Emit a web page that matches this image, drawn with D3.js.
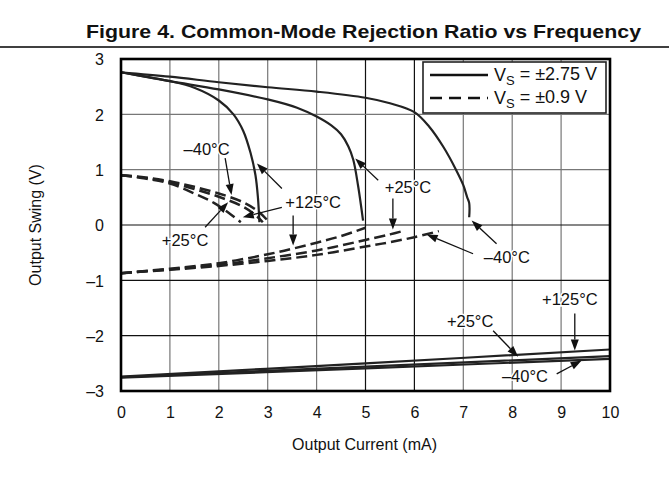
<!DOCTYPE html>
<html><head><meta charset="utf-8">
<script src="https://cdn.jsdelivr.net/npm/d3@7"></script>
<style>
html,body{margin:0;padding:0;background:#fff;}
svg text{font-family:"Liberation Sans",Arial,Helvetica,sans-serif;fill:#111;}
</style></head>
<body>
<svg id="chart" width="669" height="487"></svg>
<script>
// ---------- data ----------
const currentTicks = [0,1,2,3,4,5,6,7,8,9,10];
const swingTicks = [3,2,1,0,-1,-2,-3];
const swingTickLabels = ["3","2","1","0","\u20131","\u20132","\u20133"];

// VS = ±2.75 V, positive swing  [current mA, swing V]
const s275Pos_m40 = [[0,2.76],[1,2.68],[2,2.58],[3,2.49],[4,2.41],[5,2.3],[5.5,2.2],[6.0,2.04],[6.3,1.78],[6.6,1.4],[6.85,1.0],[7.0,0.72],[7.08,0.5],[7.12,0.4],[7.12,0.14]];
const s275Pos_p25 = [[0,2.76],[1,2.6],[2,2.45],[3,2.27],[3.6,2.12],[4.0,1.96],[4.3,1.8],[4.5,1.64],[4.65,1.42],[4.75,1.18],[4.85,0.7],[4.95,0.08]];
const s275Pos_p125 = [[0,2.76],[0.5,2.68],[1,2.6],[1.5,2.48],[2.0,2.25],[2.3,2.0],[2.5,1.7],[2.65,1.3],[2.75,0.9],[2.8,0.5],[2.83,0.05]];
// VS = ±2.75 V, negative swing
const s275Neg_m40 = [[0,-2.76],[5,-2.59],[10,-2.42]];
const s275Neg_p25 = [[0,-2.75],[5,-2.56],[10,-2.37]];
const s275Neg_p125 = [[0,-2.74],[5,-2.5],[10,-2.25]];
// VS = ±0.9 V, positive swing
const s09Pos_m40 = [[0,0.9],[0.5,0.86],[1,0.79],[1.5,0.69],[2,0.57],[2.5,0.41],[2.8,0.25],[3.0,0.08]];
const s09Pos_p25 = [[0,0.9],[0.5,0.85],[1,0.77],[1.5,0.65],[2,0.51],[2.5,0.33],[2.75,0.18],[2.9,0.05]];
const s09Pos_p125 = [[0,0.9],[0.5,0.84],[1,0.75],[1.5,0.57],[1.9,0.4],[2.2,0.22],[2.45,0.05]];
// VS = ±0.9 V, negative swing
const s09Neg_m40 = [[0,-0.87],[1,-0.81],[2,-0.74],[3,-0.65],[4,-0.54],[5,-0.39],[5.5,-0.31],[6,-0.22],[6.5,-0.11]];
const s09Neg_p25 = [[0,-0.87],[1,-0.8],[2,-0.72],[3,-0.6],[4,-0.46],[4.5,-0.37],[5,-0.27],[5.5,-0.17],[5.8,-0.1]];
const s09Neg_p125 = [[0,-0.87],[1,-0.79],[2,-0.69],[3,-0.53],[3.5,-0.43],[4,-0.32],[4.5,-0.2],[5,-0.05]];

const legendLabels = ["\u00b12.75 V","\u00b10.9 V"];

// annotations in data units: label [I,V], arrows [[fromI,fromV],[toI,toV]]
const annotations = [
  {text:"\u201340\u00b0C", at:[1.75,1.38], arrows:[[[2.13,1.21],[2.26,0.54]]]},
  {text:"+125\u00b0C", at:[3.93,0.41], arrows:[[[3.29,0.66],[2.78,1.11]],[[3.29,0.32],[2.49,0.14]],[[3.52,0.17],[3.52,-0.37]]]},
  {text:"+25\u00b0C", at:[1.31,-0.28], arrows:[[[1.72,-0.04],[2.19,0.41]]]},
  {text:"+25\u00b0C", at:[5.87,0.69], arrows:[[[5.26,0.81],[4.79,1.2]],[[5.56,0.48],[5.56,-0.08]]]},
  {text:"\u201340\u00b0C", at:[7.89,-0.58], arrows:[[[7.2,-0.52],[6.25,-0.17]],[[7.68,-0.34],[7.17,0.08]]]},
  {text:"+125\u00b0C", at:[9.18,-1.34], arrows:[[[9.28,-1.6],[9.28,-2.27]]]},
  {text:"+25\u00b0C", at:[7.14,-1.73], arrows:[[[7.61,-1.91],[8.12,-2.38]]]},
  {text:"\u201340\u00b0C", at:[8.26,-2.73], arrows:[[[8.91,-2.69],[9.42,-2.45]]]}
];

// ---------- layout ----------
const svg = d3.select("#chart");
const L = 121, R = 610, T = 59, B = 391;
const x = d3.scaleLinear().domain([0,10]).range([L,R]);
const y = d3.scaleLinear().domain([-3,3]).range([B,T]);
const font = '"Liberation Sans",Arial,Helvetica,sans-serif';

// title
const title = svg.append("text").attr("x",86).attr("y",38)
  .attr("font-size",19).attr("font-weight","bold")
  .text("Figure 4. Common-Mode Rejection Ratio vs Frequency");
title.attr("textLength",555).attr("lengthAdjust","spacingAndGlyphs");
svg.append("line").attr("x1",0).attr("x2",669).attr("y1",47).attr("y2",47)
  .attr("stroke","#000").attr("stroke-width",1.5);

// grid
const darkV = new Set([5,6]);
const darkH = new Set([0,-1,-2]);
svg.append("g").selectAll("line").data(currentTicks.slice(1,-1)).join("line")
  .attr("x1",d=>x(d)).attr("x2",d=>x(d)).attr("y1",T).attr("y2",B)
  .attr("stroke",d=>darkV.has(d)?"#111":"#777").attr("stroke-width",1.2);
svg.append("g").selectAll("line").data(swingTicks.slice(1,-1)).join("line")
  .attr("x1",L).attr("x2",R).attr("y1",d=>y(d)).attr("y2",d=>y(d))
  .attr("stroke",d=>darkH.has(d)?"#111":"#777").attr("stroke-width",1.2);

// axes (tick labels only)
const xAxis = d3.axisBottom(x).tickValues(currentTicks).tickSize(0).tickPadding(0).tickFormat(d3.format("d"));
const gx = svg.append("g").attr("transform",`translate(0,${B})`).call(xAxis);
gx.select(".domain").remove();
gx.selectAll("text").attr("font-size",16).attr("font-family",font).attr("fill","#111").attr("dy",null).attr("y",27);

const yAxis = d3.axisLeft(y).tickValues(swingTicks).tickSize(0).tickPadding(0)
  .tickFormat(d=>swingTickLabels[swingTicks.indexOf(d)]);
const gy = svg.append("g").attr("transform",`translate(${L-17},0)`).call(yAxis);
gy.select(".domain").remove();
gy.selectAll("text").attr("font-size",16).attr("font-family",font).attr("fill","#111").attr("dy","0.36em");

svg.append("text").attr("x",(L+R)/2 - 1).attr("y",450).attr("text-anchor","middle")
  .attr("font-size",16).text("Output Current (mA)");
svg.append("text").attr("transform",`translate(41,${y(0)}) rotate(-90)`).attr("text-anchor","middle")
  .attr("font-size",16).text("Output Swing (V)");

// curves
const line = d3.line().x(d=>x(d[0])).y(d=>y(d[1])).curve(d3.curveCatmullRom.alpha(0.5));
const solidSeries = [s275Pos_m40,s275Pos_p25,s275Pos_p125,s275Neg_m40,s275Neg_p25,s275Neg_p125];
const dashSeries = [s09Pos_m40,s09Pos_p25,s09Pos_p125,s09Neg_m40,s09Neg_p25,s09Neg_p125];
svg.append("g").selectAll("path").data(solidSeries).join("path")
  .attr("d",line).attr("fill","none").attr("stroke","#222").attr("stroke-width",2.2);
svg.append("g").selectAll("path").data(dashSeries).join("path")
  .attr("d",line).attr("fill","none").attr("stroke","#222").attr("stroke-width",2.5)
  .attr("stroke-dasharray","11,5");

// annotations
const ag = svg.append("g");
function arrow(from,to){
  const x1=x(from[0]),y1=y(from[1]),x2=x(to[0]),y2=y(to[1]);
  const ang=Math.atan2(y2-y1,x2-x1), len=11, hw=4;
  const bx=x2-len*Math.cos(ang), by=y2-len*Math.sin(ang);
  ag.append("line").attr("x1",x1).attr("y1",y1).attr("x2",bx).attr("y2",by)
    .attr("stroke","#111").attr("stroke-width",1.3);
  const px=-Math.sin(ang)*hw, py=Math.cos(ang)*hw;
  ag.append("path").attr("d",`M${x2},${y2}L${bx+px},${by+py}L${bx-px},${by-py}Z`).attr("fill","#111");
}
annotations.forEach(a=>{
  a.arrows.forEach(ar=>arrow(ar[0],ar[1]));
  ag.append("text").attr("x",x(a.at[0])).attr("y",y(a.at[1])).attr("dy","0.36em")
    .attr("text-anchor","middle").attr("font-size",16.5)
    .style("paint-order","stroke").attr("stroke","#fff").attr("stroke-width",3)
    .text(a.text);
});

// frame
svg.append("rect").attr("x",L).attr("y",T).attr("width",R-L).attr("height",B-T)
  .attr("fill","none").attr("stroke","#000").attr("stroke-width",2.6);

// legend
const lg = svg.append("g");
lg.append("rect").attr("x",423).attr("y",62).attr("width",183).attr("height",51)
  .attr("fill","#fff").attr("stroke","#222").attr("stroke-width",1.6);
legendLabels.forEach((lab,i)=>{
  const yy = 75 + i*23;
  lg.append("line").attr("x1",430).attr("x2",488).attr("y1",yy).attr("y2",yy)
    .attr("stroke","#111").attr("stroke-width",2.4)
    .attr("stroke-dasharray",i===0?null:"12,7");
  const t = lg.append("text").attr("x",494).attr("y",yy).attr("dy","0.36em").attr("font-size",18);
  t.append("tspan").text("V");
  t.append("tspan").attr("font-size",13).attr("dy","0.3em").text("S");
  t.append("tspan").attr("dy","-0.3em").text(" = " + lab);
});
</script>
</body></html>
